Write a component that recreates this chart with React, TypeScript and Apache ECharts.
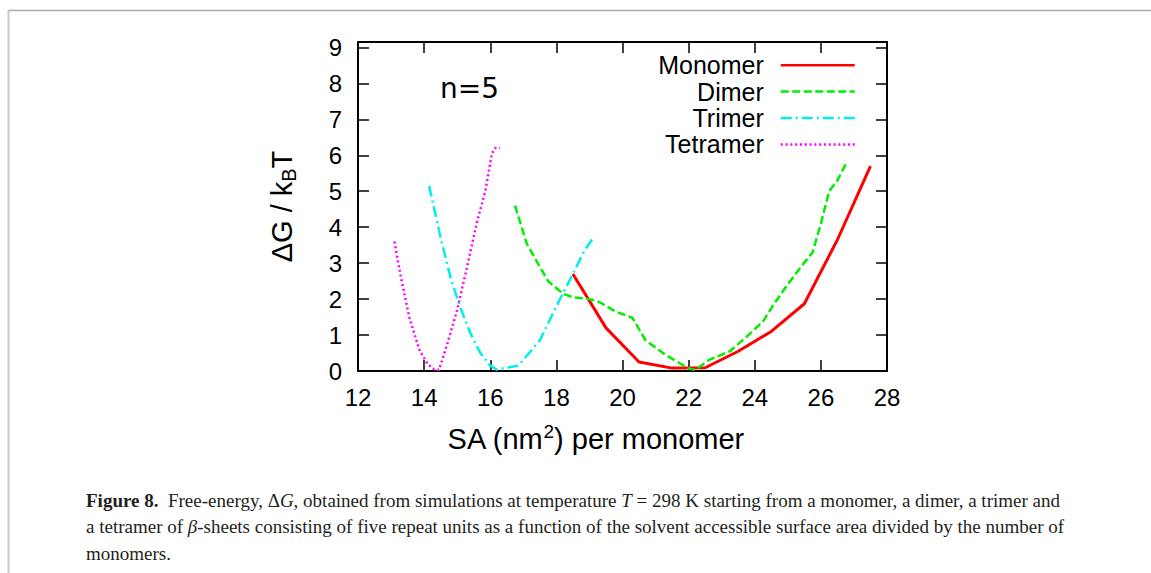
import React, { useEffect, useRef } from "react";
import * as echarts from "echarts";

const seriesNames = ["Monomer", "Dimer", "Trimer", "Tetramer"];
const seriesColors = ["#ff0000", "#00ee00", "#00eeee", "#ff00ff"];

const monomer: [number, number][] = [
  [18.5, 2.7], [19.5, 1.2], [20.5, 0.25], [21.5, 0.08], [22.5, 0.09],
  [23.5, 0.55], [24.5, 1.1], [25.5, 1.87], [26.5, 3.65], [27.5, 5.7],
];
const dimer: [number, number][] = [
  [16.75, 4.6], [17.1, 3.55], [17.5, 2.9], [17.75, 2.5], [18.2, 2.15], [18.5, 2.05],
  [19.0, 2.0], [19.3, 1.92], [19.8, 1.65], [20.3, 1.48], [20.7, 0.85], [21.3, 0.45],
  [22.0, 0.07], [22.2, 0.03], [22.6, 0.3], [23.25, 0.55], [23.75, 0.95], [24.25, 1.38],
  [24.55, 1.82], [24.95, 2.35], [25.4, 2.9], [25.75, 3.3], [26.0, 4.1], [26.25, 5.0],
  [26.5, 5.3], [26.75, 5.75],
];
const trimer: [number, number][] = [
  [14.15, 5.15], [14.5, 3.7], [14.8, 2.6], [15.1, 1.75], [15.4, 1.05], [15.7, 0.5],
  [16.0, 0.15], [16.2, 0.04], [16.85, 0.15], [17.5, 0.85], [18.0, 1.8], [18.5, 2.7],
  [18.85, 3.35], [19.15, 3.75],
];
const tetramer: [number, number][] = [
  [13.1, 3.6], [13.3, 2.6], [13.55, 1.5], [13.85, 0.6], [14.1, 0.2], [14.3, 0.05],
  [14.45, 0.03], [14.7, 0.75], [15.0, 1.7], [15.3, 2.9], [15.6, 4.15], [15.85, 5.0],
  [16.05, 6.05], [16.15, 6.2], [16.3, 6.2],
];

const xMin = 12, xMax = 28, xStep = 2;
const yMin = 0, yMax = 9.15, yStep = 1;

const captionLines = [
  "{b|Figure 8.}  Free-energy, Δ{i|G}, obtained from simulations at temperature {i|T} = 298 K starting from a monomer, a dimer, a trimer and",
  "a tetramer of {i|β}-sheets consisting of five repeat units as a function of the solvent accessible surface area divided by the number of",
  "monomers.",
];

const SANS = "'Liberation Sans', Arial, Helvetica, sans-serif";
const SERIF = "'Liberation Serif', 'Times New Roman', serif";

export default function App() {
  const ref = useRef<HTMLDivElement>(null);
  useEffect(() => {
    if (!ref.current) return;
    const chart = echarts.init(ref.current, undefined, { renderer: "svg" });
    const datasets = [monomer, dimer, trimer, tetramer];
    const dashes: any[] = ["solid", [8, 3.5], [11, 4, 2, 4], [2, 2.8]];
    const widths = [3, 2.5, 2.5, 2.5];

    const baseX = {
      type: "value" as const,
      min: xMin, max: xMax, interval: xStep,
      axisLine: { show: true, onZero: false, lineStyle: { color: "#000", width: 2 } },
      axisTick: { show: true, inside: true, length: 11, lineStyle: { color: "#000", width: 1.5 } },
      splitLine: { show: false },
    };
    const baseY = {
      type: "value" as const,
      min: yMin, max: yMax, interval: yStep,
      axisLine: { show: true, onZero: false, lineStyle: { color: "#000", width: 2 } },
      axisTick: { show: true, inside: true, length: 11, lineStyle: { color: "#000", width: 1.5 } },
      splitLine: { show: false },
    };
    const nameSize = 29;

    chart.setOption({
      animation: false,
      backgroundColor: "#fff",
      grid: { left: 358, right: 264, top: 42, bottom: 202, containLabel: false },
      xAxis: [
        {
          ...baseX,
          position: "bottom",
          axisLabel: { color: "#000", fontSize: 24, fontFamily: SANS, margin: 14 },
          name: "{a|SA (nm}{s|2}{a|) per monomer}",
          nameLocation: "middle",
          nameGap: 51,
          nameTextStyle: {
            color: "#000",
            fontFamily: SANS,
            fontSize: nameSize,
            padding: [0, 54, 0, 0],
            rich: {
              a: { fontSize: nameSize, fontFamily: SANS, color: "#000" },
              s: { fontSize: 19, fontFamily: SANS, color: "#000", padding: [0, 0, 15, 0] },
            },
          },
        },
        { ...baseX, position: "top", axisLabel: { show: false } },
      ],
      yAxis: [
        {
          ...baseY,
          position: "left",
          axisLabel: {
            color: "#000", fontSize: 24, fontFamily: SANS, margin: 16,
            formatter: (v: number) => (Number.isInteger(v) ? String(v) : ""),
          },
          name: "{a|ΔG / k}{s|B}{a|T}",
          nameLocation: "middle",
          nameGap: 59,
          nameTextStyle: {
            color: "#000",
            fontFamily: SANS,
            fontSize: nameSize,
            rich: {
              a: { fontSize: nameSize, fontFamily: SANS, color: "#000" },
              s: { fontSize: 20, fontFamily: SANS, color: "#000", padding: [15, 0, 0, 0] },
            },
          },
        },
        { ...baseY, position: "right", axisLabel: { show: false } },
      ],
      legend: {
        orient: "vertical",
        align: "right",
        right: 295,
        top: 52,
        padding: 0,
        itemGap: 0,
        itemWidth: 74,
        itemHeight: 14,
        selectedMode: false,
        data: seriesNames,
        itemStyle: { opacity: 0 },
        lineStyle: { width: 2.5 },
        textStyle: {
          fontSize: 25,
          fontFamily: SANS,
          color: "#000",
          lineHeight: 26.4,
          padding: [0, 12, 0, 0],
        },
      },
      series: datasets.map((d, i) => ({
        name: seriesNames[i],
        type: "line",
        data: d,
        symbol: "none",
        showSymbol: false,
        lineStyle: { color: seriesColors[i], width: widths[i], type: dashes[i], cap: "butt" },
        itemStyle: { color: seriesColors[i] },
        z: 2 + i,
      })),
      graphic: [
        { type: "line", shape: { x1: 8, y1: 10.5, x2: 1151, y2: 10.5 }, style: { stroke: "#aaaaaa", lineWidth: 1.5 } },
        { type: "line", shape: { x1: 8.5, y1: 10, x2: 8.5, y2: 573 }, style: { stroke: "#c8c8c8", lineWidth: 2 } },
        {
          type: "text", left: 440, top: 74,
          style: { text: "n=5", fontSize: 28, fontFamily: "'DejaVu Sans', sans-serif", fill: "#000" },
        },
        ...captionLines.map((t, k) => ({
          type: "text",
          x: 86,
          y: 500 + k * 26.5,
          style: {
            text: t,
            fontSize: 19,
            fontFamily: SERIF,
            fill: "#231f20",
            verticalAlign: "middle",
            rich: {
              b: { fontWeight: "bold", fontSize: 19, fontFamily: SERIF, fill: "#231f20" },
              i: { fontStyle: "italic", fontSize: 19, fontFamily: SERIF, fill: "#231f20" },
            },
          },
        })),
      ],
    });
    return () => chart.dispose();
  }, []);
  return (
    <div
      ref={ref}
      style={{ position: "absolute", left: 0, top: 0, width: 1151, height: 573, background: "#fff" }}
    />
  );
}
